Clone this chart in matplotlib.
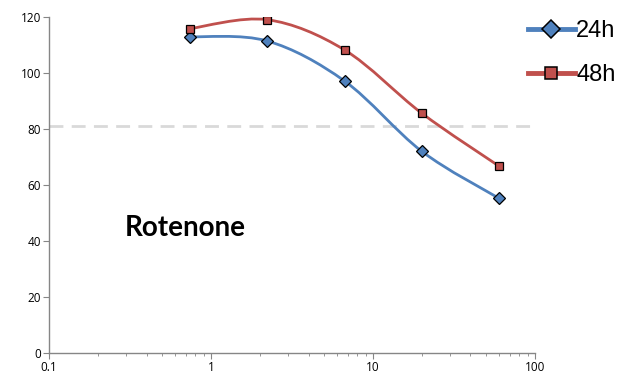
import matplotlib.pyplot as plt
from matplotlib.path import Path
from matplotlib.patches import PathPatch
from matplotlib.ticker import FixedLocator, LogLocator, NullFormatter
import numpy as np

conc = [0.74, 2.22, 6.67, 20, 60]
viab_24h = [112.9, 111.4, 97.1, 72.0, 55.2]
viab_48h = [115.8, 119.0, 108.2, 85.6, 66.7]
cutoff = 81

blue = '#4F81BD'
red = '#C0504D'


def smooth_path(xs, ys, k=1/6):
    # bezier through the points, control points worked out in log-x space
    lx = np.log10(xs)
    ys = np.asarray(ys, float)
    n = len(lx)
    verts = [(xs[0], ys[0])]
    codes = [Path.MOVETO]
    for i in range(n - 1):
        i0 = max(i - 1, 0)
        i3 = min(i + 2, n - 1)
        c1 = (lx[i] + (lx[i + 1] - lx[i0]) * k, ys[i] + (ys[i + 1] - ys[i0]) * k)
        c2 = (lx[i + 1] - (lx[i3] - lx[i]) * k, ys[i + 1] - (ys[i3] - ys[i]) * k)
        verts += [(10 ** c1[0], c1[1]), (10 ** c2[0], c2[1]), (xs[i + 1], ys[i + 1])]
        codes += [Path.CURVE4] * 3
    return Path(verts, codes)


fig = plt.figure(figsize=(6.22, 3.75), dpi=100)
ax = fig.add_axes([0.079, 0.059, 0.781, 0.896])
ax.set_xscale('log')
ax.set_xlim(0.1, 100)
ax.set_ylim(0, 120)

ax.axhline(cutoff, color='#D9D9D9', lw=2, ls=(0, (5, 3)), zorder=1)

for ys, col, mk, ms, lab in [(viab_24h, blue, 'D', 6, '24h'), (viab_48h, red, 's', 6, '48h')]:
    ax.add_patch(PathPatch(smooth_path(conc, ys), fill=False, edgecolor=col, lw=2, zorder=2))
    ax.plot(conc, ys, ls='none', marker=mk, ms=ms, mfc=col, mec='black', mew=0.9, zorder=3)
    # legend handle
    ax.plot([], [], color=col, lw=3.5, marker=mk, ms=9, mfc=col, mec='black', mew=1.1, label=lab)

leg = ax.legend(loc='upper left', bbox_to_anchor=(0.985, 0.99), frameon=False,
                prop={'family': 'Liberation Sans', 'size': 17}, handlelength=2.0,
                handletextpad=0.05, labelspacing=0.93, borderaxespad=0, borderpad=0)

ax.text(0.28, 0.373, 'Rotenone', transform=ax.transAxes, fontsize=20,
        fontweight='bold', family='Lato', ha='center', va='center')

for s in ['top', 'right']:
    ax.spines[s].set_visible(False)
for s in ['left', 'bottom']:
    ax.spines[s].set_color('#868686')
    ax.spines[s].set_linewidth(1)

ax.set_yticks([0, 20, 40, 60, 80, 100, 120])
ax.xaxis.set_major_locator(FixedLocator([0.1, 1, 10, 100]))
ax.set_xticklabels(['0.1', '1', '10', '100'])
ax.xaxis.set_minor_locator(LogLocator(base=10, subs=np.arange(2, 10)))
ax.xaxis.set_minor_formatter(NullFormatter())
ax.tick_params(axis='both', which='major', direction='out', length=4, color='#868686',
               labelsize=8.5, pad=2)
ax.tick_params(axis='x', which='minor', direction='out', length=2.5, color='#868686')
for t in ax.get_xticklabels() + ax.get_yticklabels():
    t.set_family('Open Sans')

fig.savefig('out.png', dpi=100)
